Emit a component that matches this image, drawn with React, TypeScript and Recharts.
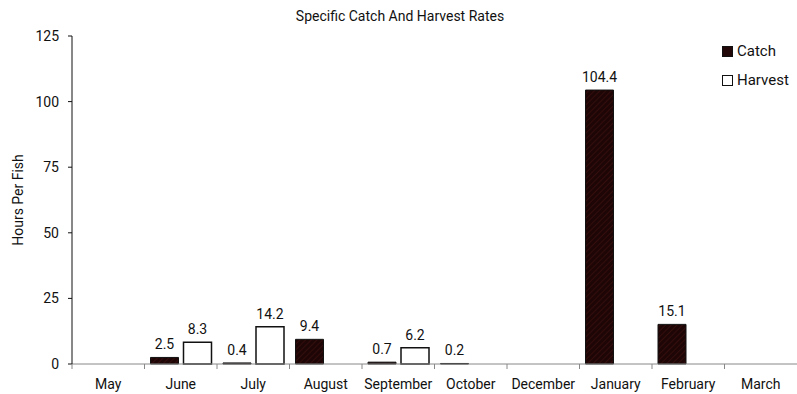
import { BarChart, Bar, XAxis, YAxis, LabelList, Label } from 'recharts';

const months = ['May', 'June', 'July', 'August', 'September', 'October', 'December', 'January', 'February', 'March'];
const catchRates = [null, 2.5, 0.4, 9.4, 0.7, 0.2, null, 104.4, 15.1, null];
const harvestRates = [null, 8.3, 14.2, null, 6.2, null, null, null, null, null];
const yTicks = [0, 25, 50, 75, 100, 125];

const data = months.map((m, i) => ({ month: m, catch: catchRates[i], harvest: harvestRates[i] }));

const W = 797;
const H = 394;
const LEFT = 72;
const PLOT_W = 725;
const FONT = 'Roboto, sans-serif';
const halfBand = PLOT_W / months.length / 2;

const MonthTick = (props: any) => {
  const { x, y, payload } = props;
  return (
    <g>
      <line x1={x - halfBand} x2={x - halfBand} y1={y - 8} y2={y - 3} stroke="#888" />
      <text x={x} y={y + 17} textAnchor="middle" fontSize={14} fill="#111" fontFamily={FONT}>
        {payload.value}
      </text>
    </g>
  );
};

const legendItems = [
  { name: 'Catch', fill: '#220808' },
  { name: 'Harvest', fill: '#fff' },
];

export default function App() {
  return (
    <div style={{ position: 'fixed', left: 0, top: 0, width: W, height: H, background: '#fff' }}>
      <div
        style={{
          position: 'absolute',
          top: 8,
          left: 0,
          width: 800,
          textAlign: 'center',
          fontFamily: FONT,
          fontSize: 14,
          color: '#111',
        }}
      >
        Specific Catch And Harvest Rates
      </div>
      <div
        style={{
          position: 'absolute',
          top: 37,
          left: 722,
          fontFamily: FONT,
          fontSize: 15,
          color: '#111',
          lineHeight: '29px',
          zIndex: 2,
        }}
      >
        {legendItems.map((it) => (
          <div key={it.name} style={{ display: 'flex', alignItems: 'center' }}>
            <span
              style={{ width: 9, height: 9, background: it.fill, border: '1px solid #111', marginRight: 4 }}
            />
            {it.name}
          </div>
        ))}
      </div>
      <BarChart
        width={W}
        height={H}
        data={data}
        margin={{ top: 36, right: W - LEFT - PLOT_W, bottom: 0, left: 0 }}
        barCategoryGap={6}
        barGap={5}
      >
        <defs>
          <pattern id="hatch" width="4" height="4" patternUnits="userSpaceOnUse" patternTransform="rotate(45)">
            <rect width="4" height="4" fill="#1e0606" />
            <line x1="0" y1="0" x2="0" y2="4" stroke="#4a1414" strokeWidth="1" />
          </pattern>
        </defs>
        <XAxis
          dataKey="month"
          height={30}
          axisLine={{ stroke: '#888' }}
          tickLine={false}
          tick={<MonthTick />}
          interval={0}
        />
        <YAxis
          width={LEFT}
          domain={[0, 125]}
          ticks={yTicks}
          axisLine={{ stroke: '#111' }}
          tickLine={{ stroke: '#111' }}
          tickSize={4}
          tickMargin={9}
          tick={{ fontSize: 14, fill: '#111', fontFamily: FONT }}
        >
          <Label
            content={() => (
              <text
                x={23}
                y={200}
                transform="rotate(-90 23 200)"
                textAnchor="middle"
                fontSize={14}
                fill="#111"
                fontFamily={FONT}
              >
                Hours Per Fish
              </text>
            )}
          />
        </YAxis>
        <Bar dataKey="catch" name="Catch" fill="url(#hatch)" stroke="#111" strokeWidth={1} isAnimationActive={false}>
          <LabelList dataKey="catch" position="top" offset={8} fontSize={14} fill="#111" fontFamily={FONT} />
        </Bar>
        <Bar dataKey="harvest" name="Harvest" fill="#fff" stroke="#111" strokeWidth={1.5} isAnimationActive={false}>
          <LabelList dataKey="harvest" position="top" offset={8} fontSize={14} fill="#111" fontFamily={FONT} />
        </Bar>
      </BarChart>
    </div>
  );
}
